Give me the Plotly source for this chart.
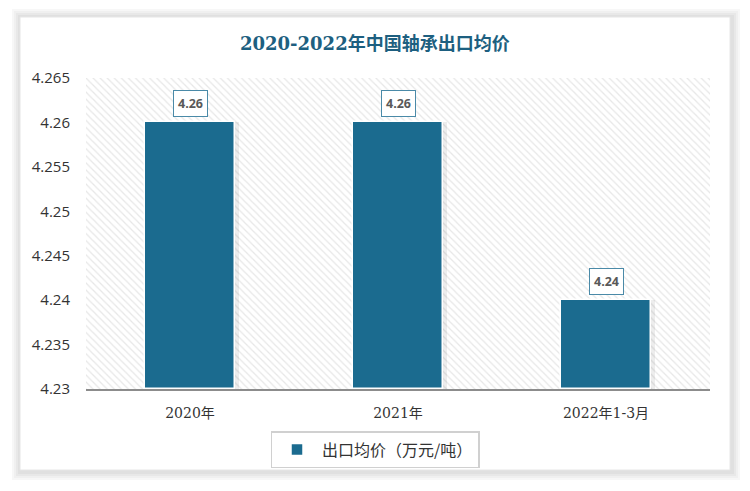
import plotly.graph_objects as go

categories = ["2020年", "2021年", "2022年1-3月"]
values = [4.26, 4.26, 4.24]
value_labels = ["4.26", "4.26", "4.24"]
series_name = "出口均价（万元/吨）"
title_text = "2020-2022年中国轴承出口均价"
y_min, y_max, y_step = 4.23, 4.265, 0.005

W, H = 750, 491
px_l, px_r, px_t, px_b = 86, 710, 78, 389

bar_color = "#1B6B8F"

fig = go.Figure()

# hatched plot background via a bar on a hidden base axis
fig.add_trace(go.Bar(
    x=[0.5], y=[y_max - y_min], base=[y_min], width=[1],
    xaxis="x", yaxis="y",
    marker=dict(color="white", line=dict(width=0),
                pattern=dict(shape="\\", fgcolor="#d0d0d0", bgcolor="white", size=5, solidity=0.25)),
    showlegend=False, hoverinfo="skip",
))

# soft shadow behind bars
fig.add_trace(go.Bar(
    x=categories, y=[v - y_min for v in values], base=[y_min] * len(values),
    width=0.455, offset=-0.22, marker=dict(color="rgba(0,0,0,0.07)", line=dict(width=0)),
    xaxis="x2", yaxis="y", showlegend=False, hoverinfo="skip",
))

fig.add_trace(go.Bar(
    x=categories, y=[v - y_min for v in values], base=[y_min] * len(values),
    name=series_name, width=0.43,
    marker=dict(color=bar_color, line=dict(color="white", width=1.5)),
    xaxis="x2", yaxis="y",
))

for c, v, t in zip(categories, values, value_labels):
    fig.add_annotation(
        x=c, y=v, xref="x2", yref="y", text="<b>" + t + "</b>", showarrow=False,
        yshift=19, font=dict(size=12.5, color="#595959", family="Open Sans, Liberation Sans"),
        bgcolor="white", bordercolor="#4a8aa8", borderwidth=1, borderpad=4,
    )

shapes = []
# outer frame shadow
for i, col in enumerate(["#f7f7f7", "#f0f0f0", "#e8e8e8", "#e0e0e0"]):
    d = 8 - 2 * i
    shapes.append(dict(type="rect", xref="paper", yref="paper",
                       x0=(20 - d) / W, x1=(732 + d) / W,
                       y0=1 - (472 + d) / H, y1=1 - (17 - d) / H,
                       fillcolor=col, line=dict(width=0), layer="below"))
shapes.append(dict(type="rect", xref="paper", yref="paper",
                   x0=20 / W, x1=730 / W, y0=1 - 470 / H, y1=1 - 17 / H,
                   fillcolor="white", line=dict(color="#e6e6e6", width=1), layer="below"))
fig.update_layout(shapes=shapes)

fig.add_annotation(
    x=375 / W, y=1 - 44 / H, xref="paper", yref="paper", text="<b>" + title_text + "</b>",
    showarrow=False, xanchor="center", yanchor="middle",
    font=dict(size=18, color="#1d5f80", family="DejaVu Serif, Noto Sans CJK SC"),
)

ticks = [round(y_min + i * y_step, 3) for i in range(int(round((y_max - y_min) / y_step)) + 1)]

fig.update_layout(
    width=W, height=H, margin=dict(l=0, r=0, t=0, b=0, autoexpand=False),
    paper_bgcolor="white", plot_bgcolor="rgba(0,0,0,0)",
    barmode="overlay", bargap=0,
    xaxis=dict(domain=[px_l / W, px_r / W], range=[0, 1], visible=False, automargin=False),
    xaxis2=dict(domain=[px_l / W, px_r / W], type="category", overlaying="x", anchor="y",
                showgrid=False, showline=True, linecolor="#8c8c8c", linewidth=1.5,
                ticks="", automargin=False,
                tickfont=dict(size=14, color="#333333", family="DejaVu Serif, Noto Sans CJK SC"),
                ticklabelstandoff=10),
    yaxis=dict(domain=[1 - px_b / H, 1 - px_t / H], range=[y_min, y_max], automargin=False,
               tickvals=ticks, ticktext=[("%g" % t) for t in ticks],
               showgrid=False, zeroline=False, showline=False,
               tickfont=dict(size=15, color="#333333", family="Open Sans, Liberation Sans"),
               ticklabelstandoff=15),
    legend=dict(orientation="h", x=375 / W, xanchor="center", y=1 - 431 / H, yanchor="top",
                bordercolor="#d0d0d0", borderwidth=1.5, bgcolor="white",
                font=dict(size=16, color="#333333", family="Noto Sans CJK SC"),
                itemwidth=40, traceorder="normal"),
    showlegend=True,
)

fig.write_html("out.html")
